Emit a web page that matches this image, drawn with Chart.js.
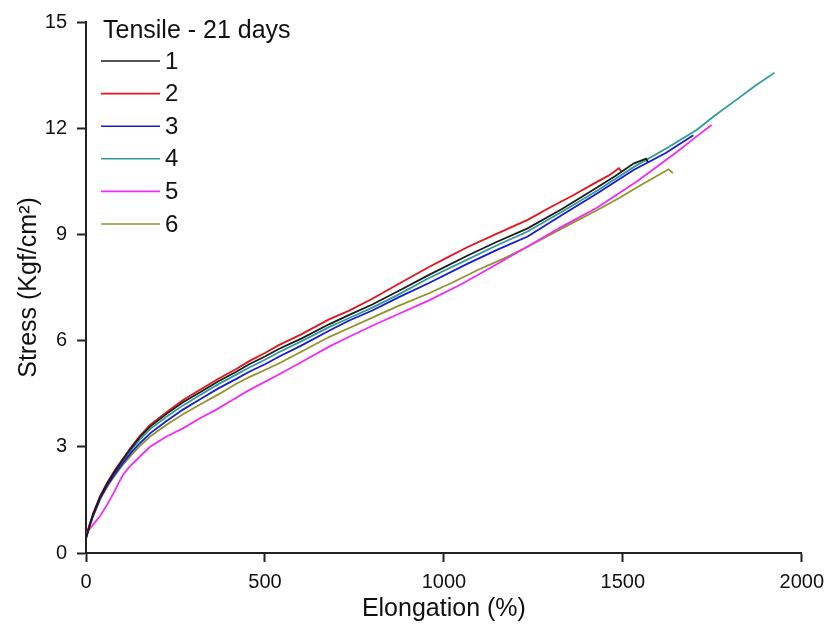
<!DOCTYPE html>
<html>
<head>
<meta charset="utf-8">
<script src="https://cdn.jsdelivr.net/npm/chart.js@4.4.1/dist/chart.umd.min.js"></script>
<style>
  html, body { margin: 0; padding: 0; background: #ffffff; }
  #wrap { width: 832px; height: 630px; }
</style>
</head>
<body>
<div id="wrap"><canvas id="chart" width="832" height="630"></canvas></div>
<script>
// Tensile test, specimens aged 21 days: stress vs. elongation
const legendTitle = 'Tensile - 21 days';
const seriesNames = ['1', '2', '3', '4', '5', '6'];
const seriesColors = ['#1c1c1c', '#e3141c', '#1a1ad4', '#2f9b9b', '#f22cf2', '#93932c'];

const xTicks = [0, 500, 1000, 1500, 2000];
const yTicks = [0, 3, 6, 9, 12, 15];

// Specimen 1
const elong1 = [0, 10, 20, 40, 60, 80, 100, 125, 150, 179, 225, 271, 320, 370, 420, 456, 500, 540, 600, 679, 734, 800, 873, 957, 1068, 1150, 1234, 1330, 1429, 1480, 1530, 1565, 1570];
const stress1 = [0.42, 0.78, 1.1, 1.6, 1.98, 2.3, 2.6, 2.95, 3.27, 3.57, 3.93, 4.26, 4.55, 4.85, 5.12, 5.33, 5.55, 5.77, 6.05, 6.46, 6.72, 7.02, 7.4, 7.85, 8.41, 8.8, 9.17, 9.72, 10.33, 10.66, 11.0, 11.14, 11.04];

// Specimen 2
const elong2 = [0, 10, 20, 40, 60, 80, 100, 125, 150, 179, 225, 271, 320, 370, 420, 456, 500, 540, 600, 679, 734, 800, 873, 957, 1010, 1068, 1150, 1234, 1300, 1360, 1429, 1460, 1489, 1496];
const stress2 = [0.45, 0.8, 1.12, 1.62, 2.0, 2.33, 2.62, 2.97, 3.3, 3.62, 3.98, 4.32, 4.62, 4.92, 5.2, 5.42, 5.65, 5.88, 6.17, 6.6, 6.84, 7.18, 7.6, 8.07, 8.35, 8.65, 9.03, 9.41, 9.78, 10.1, 10.49, 10.66, 10.87, 10.78];

// Specimen 3
const elong3 = [0, 10, 20, 40, 60, 80, 100, 125, 150, 179, 225, 271, 320, 370, 420, 456, 500, 540, 600, 679, 734, 800, 873, 957, 1068, 1150, 1234, 1330, 1429, 1530, 1620, 1697];
const stress3 = [0.4, 0.75, 1.05, 1.55, 1.92, 2.22, 2.5, 2.82, 3.1, 3.38, 3.73, 4.05, 4.35, 4.65, 4.92, 5.12, 5.33, 5.55, 5.85, 6.28, 6.56, 6.85, 7.22, 7.62, 8.18, 8.57, 8.94, 9.55, 10.16, 10.82, 11.3, 11.8];

// Specimen 4
const elong4 = [0, 10, 20, 40, 60, 80, 100, 125, 150, 179, 225, 271, 320, 370, 420, 456, 500, 540, 600, 679, 734, 800, 873, 957, 1068, 1150, 1234, 1330, 1429, 1530, 1620, 1706, 1760, 1817, 1870, 1924];
const stress4 = [0.45, 0.8, 1.1, 1.6, 1.97, 2.28, 2.57, 2.9, 3.2, 3.5, 3.85, 4.17, 4.47, 4.77, 5.04, 5.24, 5.46, 5.68, 5.97, 6.38, 6.63, 6.93, 7.3, 7.76, 8.3, 8.7, 9.08, 9.64, 10.24, 10.9, 11.42, 11.95, 12.38, 12.8, 13.2, 13.57];

// Specimen 5
const elong5 = [0, 20, 40, 60, 77, 95, 104, 120, 140, 179, 225, 271, 317, 364, 410, 456, 540, 600, 679, 734, 800, 873, 957, 1050, 1150, 1234, 1330, 1429, 1540, 1651, 1700, 1748];
const stress5 = [0.55, 0.8, 1.05, 1.38, 1.69, 2.05, 2.22, 2.42, 2.62, 3.0, 3.29, 3.52, 3.8, 4.05, 4.33, 4.6, 5.05, 5.38, 5.83, 6.1, 6.42, 6.75, 7.13, 7.6, 8.17, 8.66, 9.22, 9.76, 10.5, 11.33, 11.72, 12.09];

// Specimen 6
const elong6 = [0, 10, 20, 40, 60, 80, 100, 125, 150, 179, 225, 271, 320, 370, 420, 456, 500, 540, 600, 679, 734, 800, 873, 957, 1030, 1096, 1170, 1234, 1330, 1429, 1490, 1540, 1590, 1628, 1640];
const stress6 = [0.45, 0.78, 1.05, 1.53, 1.88, 2.18, 2.45, 2.75, 3.02, 3.29, 3.62, 3.92, 4.2, 4.48, 4.78, 4.97, 5.17, 5.36, 5.68, 6.1, 6.35, 6.65, 6.98, 7.33, 7.67, 8.0, 8.33, 8.65, 9.17, 9.69, 10.03, 10.33, 10.62, 10.84, 10.73];

const elongations = [elong1, elong2, elong3, elong4, elong5, elong6];
const stresses = [stress1, stress2, stress3, stress4, stress5, stress6];

const FONT = '"Liberation Sans", Arial, Helvetica, sans-serif';
const INK = '#111111';

const datasets = seriesNames.map((name, i) => ({
  label: name,
  data: elongations[i].map((x, k) => ({ x: x, y: stresses[i][k] })),
  borderColor: seriesColors[i],
  backgroundColor: seriesColors[i],
  borderWidth: 1.8,
  pointRadius: 0,
  tension: 0,
  fill: false
}));

// Legend block in the upper-left corner of the plot
const legendBlock = {
  id: 'legendBlock',
  afterDatasetsDraw(chart) {
    const ctx = chart.ctx;
    const left = chart.chartArea.left;
    const top = chart.chartArea.top;
    ctx.save();
    ctx.fillStyle = INK;
    ctx.font = '25px ' + FONT;
    ctx.textAlign = 'left';
    ctx.textBaseline = 'alphabetic';
    ctx.fillText(legendTitle, left + 17, top + 16);
    ctx.font = '24px ' + FONT;
    ctx.textBaseline = 'middle';
    chart.data.datasets.forEach((ds, i) => {
      const y = top + 39 + i * 32.6;
      ctx.strokeStyle = ds.borderColor;
      ctx.lineWidth = 1.6;
      ctx.beginPath();
      ctx.moveTo(left + 15, y);
      ctx.lineTo(left + 74, y);
      ctx.stroke();
      ctx.fillStyle = INK;
      ctx.fillText(ds.label, left + 79, y + 1);
    });
    ctx.restore();
  }
};

new Chart(document.getElementById('chart').getContext('2d'), {
  type: 'line',
  data: { datasets: datasets },
  plugins: [legendBlock],
  options: {
    responsive: false,
    animation: false,
    devicePixelRatio: 1,
    layout: { padding: { top: 22, right: 26, left: 0, bottom: 0 } },
    plugins: {
      legend: { display: false },
      tooltip: { enabled: false }
    },
    scales: {
      x: {
        type: 'linear',
        min: 0,
        max: 2000,
        afterBuildTicks(scale) { scale.ticks = xTicks.map(v => ({ value: v })); },
        afterFit(scale) { scale.height = 77; },
        border: { display: true, color: '#222', width: 2 },
        grid: { display: true, drawOnChartArea: false, drawTicks: true, tickLength: 9, tickWidth: 2, tickColor: '#222' },
        ticks: { color: INK, font: { family: FONT, size: 20 }, padding: 8, maxRotation: 0, callback: v => String(v) },
        title: { display: true, text: 'Elongation (%)', color: INK, font: { family: FONT, size: 25 }, padding: { top: 0, bottom: 6 } }
      },
      y: {
        type: 'linear',
        min: 0,
        max: 15,
        afterBuildTicks(scale) { scale.ticks = yTicks.map(v => ({ value: v })); },
        afterFit(scale) { scale.width = 86; },
        border: { display: true, color: '#222', width: 2 },
        grid: { display: true, drawOnChartArea: false, drawTicks: true, tickLength: 9, tickWidth: 2, tickColor: '#222' },
        ticks: { color: INK, font: { family: FONT, size: 20 }, padding: 10, callback: v => String(v) },
        title: { display: true, text: 'Stress (Kgf/cm\u00B2)', color: INK, font: { family: FONT, size: 25 }, padding: { top: 14, bottom: 0 } }
      }
    }
  }
});
</script>
</body>
</html>
